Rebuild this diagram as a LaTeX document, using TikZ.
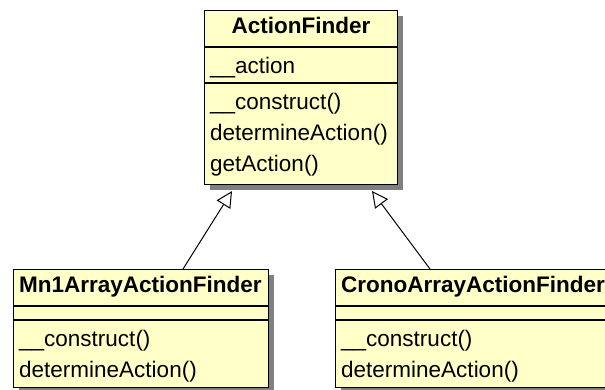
\documentclass[tikz,border=0pt]{standalone}
\usepackage{fontspec}
\setmainfont{Liberation Sans}
\usetikzlibrary{arrows.meta,shadows,calc}

\definecolor{classfill}{RGB}{255,255,200}
\definecolor{shadowgray}{RGB}{128,128,128}

\begin{document}
\begin{tikzpicture}[x=1pt,y=-1pt,
  classbox/.style={draw=black, line width=1.1pt, fill=classfill, inner sep=0pt,
    anchor=north west,
    drop shadow={shadow xshift=5pt, shadow yshift=-5pt, fill=shadowgray, opacity=1}},
  sep/.style={line width=1.1pt},
  member/.style={anchor=base west, inner sep=0pt, font=\fontsize{22.5}{26}\selectfont},
  classname/.style={inner sep=0pt, font=\fontsize{22.5}{26}\selectfont\bfseries},
  gen/.style={line width=1pt, -{Triangle[open, length=16pt, width=16pt, fill=white]}}
]
\useasboundingbox (0,0) rectangle (605,389);

% ActionFinder
\node[classbox, minimum width=193pt, minimum height=174pt] (af) at (204,10) {};
\draw[sep] ($(af.north west)+(0,37)$) -- ($(af.north east)+(0,37)$);
\draw[sep] ($(af.north west)+(0,73)$) -- ($(af.north east)+(0,73)$);
\node[classname, anchor=base] (af-name) at ($(af.north)+(0,23)$) {ActionFinder};
\node[member] (af-a1) at (210,73) {\_\_action};
\node[member] (af-m1) at (210,109) {\_\_construct()};
\node[member] (af-m2) at (210,140) {determineAction()};
\node[member] (af-m3) at (210,171) {getAction()};

% Mn1ArrayActionFinder
\node[classbox, minimum width=255pt, minimum height=118pt] (mn) at (13,269) {};
\draw[sep] ($(mn.north west)+(0,37)$) -- ($(mn.north east)+(0,37)$);
\draw[sep] ($(mn.north west)+(0,51)$) -- ($(mn.north east)+(0,51)$);
\node[classname, anchor=base west] (mn-name) at (19,292) {Mn1ArrayActionFinder};
\node[member] (mn-m1) at (19,346) {\_\_construct()};
\node[member] (mn-m2) at (19,377) {determineAction()};

% CronoArrayActionFinder (runs past the right edge)
\node[classbox, minimum width=300pt, minimum height=118pt] (cr) at (335,269) {};
\draw[sep] ($(cr.north west)+(0,37)$) -- ($(cr.north east)+(0,37)$);
\draw[sep] ($(cr.north west)+(0,51)$) -- ($(cr.north east)+(0,51)$);
\node[classname, anchor=base west] (cr-name) at (341,292) {CronoArrayActionFinder};
\node[member] (cr-m1) at (341,346) {\_\_construct()};
\node[member] (cr-m2) at (341,377) {determineAction()};

% generalization connectors
\coordinate (af-in-l) at ($(af.south west)+(28,6)$);
\coordinate (af-in-r) at ($(af.south west)+(168,6)$);
\coordinate (mn-out) at ($(mn.north west)+(170,0)$);
\coordinate (cr-out) at ($(cr.north west)+(95,0)$);
\draw[gen] (mn-out) -- (af-in-l);
\draw[gen] (cr-out) -- (af-in-r);
\end{tikzpicture}
\end{document}
